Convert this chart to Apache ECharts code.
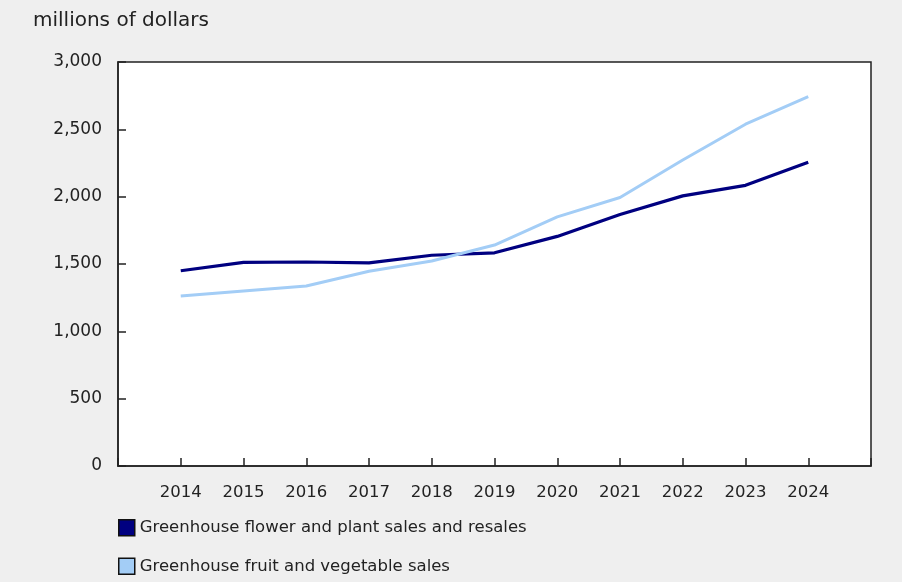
<!DOCTYPE html>
<html><head><meta charset="utf-8">
<script src="https://cdn.jsdelivr.net/npm/echarts@6/dist/echarts.min.js"></script>
<style>html,body{margin:0;padding:0;background:#efefef}#c{width:902px;height:582px}</style>
</head><body><div id="c"></div>
<script>
const years = [2013, 2014, 2015, 2016, 2017, 2018, 2019, 2020, 2021, 2022, 2023, 2024, 2025];
const dataYears = [2014, 2015, 2016, 2017, 2018, 2019, 2020, 2021, 2022, 2023, 2024];
const flowerSales = [1450, 1512, 1515, 1508, 1565, 1583, 1705, 1867, 2006, 2084, 2255];
const vegSales = [1262, 1300, 1337, 1446, 1522, 1641, 1850, 1994, 2272, 2538, 2742];
const seriesNames = ['Greenhouse flower and plant sales and resales', 'Greenhouse fruit and vegetable sales'];
const colors = ['#000080', '#a3cdf6'];
const font = 'DejaVu Sans';

const chart = echarts.init(document.getElementById('c'));
chart.setOption({
  backgroundColor: '#efefef',
  animation: false,
  title: {text: 'millions of dollars', left: 28, top: 6,
    textStyle: {fontFamily: font, fontSize: 20, fontWeight: 'normal', color: '#222'}},
  grid: {left: 118, right: 31, top: 62, bottom: 116, show: true, backgroundColor: '#fff', borderColor: '#222', borderWidth: 1.5},
  xAxis: {type: 'value', min: years[0], max: years[years.length - 1], interval: 1,
    axisLine: {show: true, onZero: false, lineStyle: {color: '#222', width: 1.5}},
    axisTick: {show: true, inside: true, length: 8, lineStyle: {color: '#222', width: 1.5}},
    splitLine: {show: false},
    axisLabel: {fontFamily: font, fontSize: 16.5, color: '#222', margin: 18,
      formatter: v => (dataYears.indexOf(v) >= 0 ? String(v) : '')}},
  yAxis: {type: 'value', min: 0, max: 3000, interval: 500,
    axisLine: {show: true, lineStyle: {color: '#222', width: 1.5}},
    axisTick: {show: true, inside: true, length: 8, lineStyle: {color: '#222', width: 1.5}},
    splitLine: {show: false},
    axisLabel: {fontFamily: font, fontSize: 17, color: '#222', margin: 16,
      formatter: v => v.toLocaleString('en-US')}},
  legend: {orient: 'vertical', left: 113, top: 514, itemGap: 21, itemWidth: 16, itemHeight: 16,
    icon: 'rect', textStyle: {fontFamily: font, fontSize: 16.5, color: '#222'},
    data: seriesNames.map((n, i) => ({name: n, itemStyle: {color: colors[i], borderColor: '#111', borderWidth: 1.5}}))},
  series: [
    {name: seriesNames[0], type: 'line', data: dataYears.map((y, i) => [y, flowerSales[i]]),
      symbol: 'none', lineStyle: {color: colors[0], width: 3.2}, itemStyle: {color: colors[0]}},
    {name: seriesNames[1], type: 'line', data: dataYears.map((y, i) => [y, vegSales[i]]),
      symbol: 'none', lineStyle: {color: colors[1], width: 3}, itemStyle: {color: colors[1]}}
  ]
});
</script></body></html>
